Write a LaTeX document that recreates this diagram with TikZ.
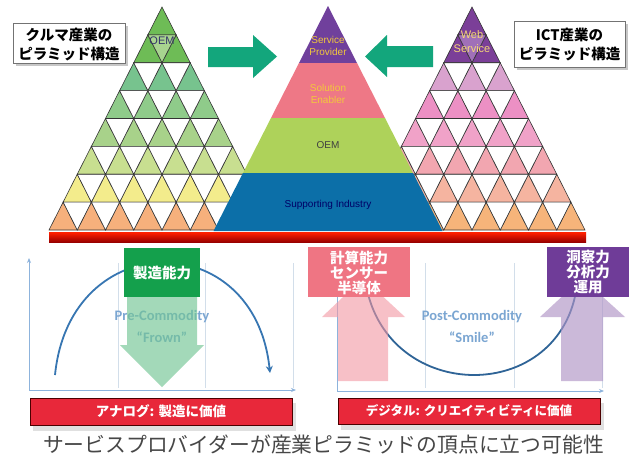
\documentclass[tikz,border=0pt]{standalone}
\usepackage{fontspec}
\setmainfont{Liberation Sans}
\newfontfamily\jp{Noto Sans CJK JP}
\newfontfamily\calfont{Carlito}
\usetikzlibrary{arrows.meta}

\definecolor{L1}{HTML}{6EBC56}\definecolor{L2}{HTML}{6EBC56}\definecolor{Lin}{HTML}{A8D48F}
\definecolor{L3}{HTML}{77C38E}\definecolor{L4}{HTML}{8FCB8A}\definecolor{L5}{HTML}{A8D28A}
\definecolor{L6}{HTML}{C8DF90}\definecolor{L7}{HTML}{F3EC8C}\definecolor{L8}{HTML}{F6B07C}
\definecolor{R1}{HTML}{7B3F98}\definecolor{R2}{HTML}{7B3F98}\definecolor{Rin}{HTML}{A070B8}
\definecolor{R3}{HTML}{D9A2CE}\definecolor{R4}{HTML}{EC90C4}\definecolor{R5}{HTML}{F0A2C8}
\definecolor{R6}{HTML}{F2A6B0}\definecolor{R7}{HTML}{F5B4A0}\definecolor{R8}{HTML}{F6B47A}
\definecolor{mpurple}{HTML}{70409C}\definecolor{mpink}{HTML}{EE7886}
\definecolor{mgreen}{HTML}{AED25A}\definecolor{mblue}{HTML}{0C6FA8}
\definecolor{gold}{HTML}{F2C83C}\definecolor{teal}{HTML}{13A67C}
\definecolor{axisblue}{HTML}{8DB3DC}\definecolor{gridc}{HTML}{D2DEEA}
\definecolor{curveblue}{HTML}{3776B2}\definecolor{txtblue}{HTML}{7BA6D2}
\definecolor{boxgreen}{HTML}{14A04C}\definecolor{boxpink}{HTML}{EF7583}
\definecolor{boxpurple}{HTML}{6F3C98}\definecolor{barred}{HTML}{E8283A}

\newcommand\drawpyramid[2]{%
 \foreach \r in {1,...,8}{%
  \pgfmathsetmacro\yt{7+(\r-1)*27.875}%
  \pgfmathtruncatemacro\rl{\r-1}%
  \foreach \k in {0,...,\rl}{%
   \pgfmathsetmacro\xa{#1+(2*\k-\rl)*14.125}%
   \filldraw[tri,fill=#2\r] (\xa,\yt) -- ++(14.125,27.875) -- ++(-28.25,0) -- cycle;
  }%
  \ifnum\r>1
   \pgfmathtruncatemacro\rd{\r-2}%
   \foreach \k in {0,...,\rd}{%
    \pgfmathsetmacro\xa{#1+(2*\k-\rl)*14.125}%
    \ifnum\r=2 \def\fc{#2in}\else\def\fc{white}\fi
    \filldraw[tri,fill=\fc] (\xa,\yt) -- ++(28.25,0) -- ++(-14.125,27.875) -- cycle;
   }%
  \fi
 }%
}

\tikzset{
 tri/.style={draw=black!80,line width=0.6pt},
 ptext/.style={font=\fontsize{10}{12}\selectfont,align=center,inner sep=0pt},
 titlebox/.style={draw=black!55,line width=0.8pt,fill=white},
 tshadow/.style={fill=black!22,draw=none},
 titletext/.style={font=\jp\bfseries\fontsize{14.5}{19}\selectfont,align=center,inner sep=0pt},
 bigarrow/.style={fill=teal,draw=none},
 axisline/.style={draw=axisblue,line width=1pt,-{Stealth[length=5pt,width=4pt]}},
 gridline/.style={draw=gridc,line width=0.8pt},
 curve/.style={draw=curveblue,line width=1.8pt},
 commtext/.style={font=\calfont\bfseries\fontsize{14.5}{17}\selectfont,text=txtblue,inner sep=0pt},
 boxtext/.style={font=\jp\bfseries\fontsize{14.5}{15}\selectfont,text=white,align=center,inner sep=0pt},
 redbar/.style={fill=barred,draw=black!70!red,line width=0.8pt},
 barshadow/.style={fill=black!12,draw=none},
 bartext/.style={font=\jp\bfseries\fontsize{13.5}{14}\selectfont,text=white,inner sep=0pt},
}

\begin{document}
\begin{tikzpicture}[x=1pt,y=-1pt]
\useasboundingbox (0,0) rectangle (635,463);
\fill[white] (0,0) rectangle (635,463);

% side pyramids
\drawpyramid{162}{L}
\drawpyramid{472}{R}
\node[font=\fontsize{11}{12}\selectfont,text=black!65!blue!60!gray,inner sep=0pt] (oemL) at (162,41) {OEM};
\node[font=\fontsize{11}{14}\selectfont,text=gold!70!white,align=center,inner sep=0pt] (web) at (472,42) {Web\\Service};

% middle pyramid
\fill[mpurple] (328,6) -- (357,63) -- (299,63) -- cycle;
\fill[mpink] (299,63) -- (357,63) -- (385,118) -- (271,118) -- cycle;
\fill[mgreen] (271,118) -- (385,118) -- (413,173) -- (243,173) -- cycle;
\fill[mblue] (243,173) -- (413,173) -- (442.5,231) -- (213.5,231) -- cycle;
\node[ptext,text=gold] (sp) at (328,46) {Service\\Provider};
\node[ptext,text=gold] (se) at (328,94) {Solution\\Enabler};
\node[ptext,text=black!75] (oemM) at (328,145) {OEM};
\node[ptext,text=blue!40!black] (si) at (328,205) {Supporting Industry};

% red base bar
\shade[top color=red!75!orange,bottom color=red!60!black] (49,232.5) rectangle (586,242);

% green arrows
\fill[bigarrow] (208,47) -- (253,47) -- (253,35) -- (277,56.5) -- (253,78) -- (253,67) -- (208,67) -- cycle;
\fill[bigarrow] (433,46) -- (387,46) -- (387,35) -- (365,56.5) -- (387,77) -- (387,67) -- (433,67) -- cycle;

% title boxes
\fill[tshadow] (16,26) rectangle (128,66);
\draw[titlebox] (13,23) rectangle (125,63);
\node[titletext] (tl) at (69,44.5) {クルマ産業の\\ピラミッド構造};
\fill[tshadow] (517,24) rectangle (628,70);
\draw[titlebox] (514,21) rectangle (625,67);
\node[titletext] (tr) at (569.5,45) {ICT産業の\\ピラミッド構造};

% ---- lower left chart
\coordinate (o1) at (29,390);
\coordinate (y1) at (29,258);
\coordinate (x1) at (296,390);
\foreach \gx in {118,205,293}{\draw[gridline] (\gx,263) -- (\gx,388);}
\draw[axisline] (o1) -- (y1);
\draw[axisline] (o1) -- (x1);
\draw[curve,-{Stealth[length=7pt,width=7pt]}] (55,375) .. controls (70,226) and (255,226) .. (270,373);
\node[commtext] (pre) at (162,317) {Pre-Commodity};
\node[commtext] (frown) at (162,337) {“Frown”};
\fill[fill=boxgreen!60!white,opacity=0.65] (127,297) -- (197,297) -- (197,345) -- (204,345) -- (162,387) -- (120,345) -- (127,345) -- cycle;
\fill[boxgreen] (124,248) rectangle (200,297);
\node[boxtext] (mfg) at (162,272.5) {製造能力};

\fill[barshadow] (33,403) rectangle (296,431);
\draw[redbar] (30,398) rectangle (292,425);
\node[bartext] (analog) at (161,411.5) {アナログ: 製造に価値};

% ---- lower right chart
\coordinate (o2) at (337,391);
\coordinate (y2) at (337,262);
\coordinate (x2) at (604,391);
\foreach \gx in {425,514,602}{\draw[gridline] (\gx,263) -- (\gx,388);}
\draw[axisline] (o2) -- (y2);
\draw[axisline] (o2) -- (x2);
\draw[curve,draw=curveblue!85!black] (366,285) .. controls (388,405) and (562,405) .. (577,285);
\node[commtext] (post) at (472,317) {Post-Commodity};
\node[commtext] (smile) at (472,337) {“Smile”};
\fill[fill=boxpink!75!white,opacity=0.6] (322,317) -- (363,278) -- (405,317) -- (388,317) -- (388,381) -- (338,381) -- (338,317) -- cycle;
\fill[fill=boxpurple!55!white,opacity=0.65] (540,317) -- (582,278) -- (625,317) -- (603,317) -- (603,381) -- (561,381) -- (561,317) -- cycle;
\fill[boxpink] (308,247) rectangle (410,297);
\node[boxtext] (calc) at (359,272.5) {計算能力\\センサー\\半導体};
\fill[boxpurple] (547,247) rectangle (629,297);
\node[boxtext] (insight) at (588,272.5) {洞察力\\分析力\\運用};

\fill[barshadow] (341,403) rectangle (604,430);
\draw[redbar] (338,398) rectangle (600,424);
\node[bartext,font=\jp\bfseries\fontsize{12.5}{13}\selectfont] (digital) at (469,411) {デジタル: クリエイティビティに価値};

% caption
\node[font=\jp\fontsize{20.8}{22}\selectfont,text=black!72,inner sep=0pt] (cap) at (323.5,445) {サービスプロバイダーが産業ピラミッドの頂点に立つ可能性};
\end{tikzpicture}
\end{document}
